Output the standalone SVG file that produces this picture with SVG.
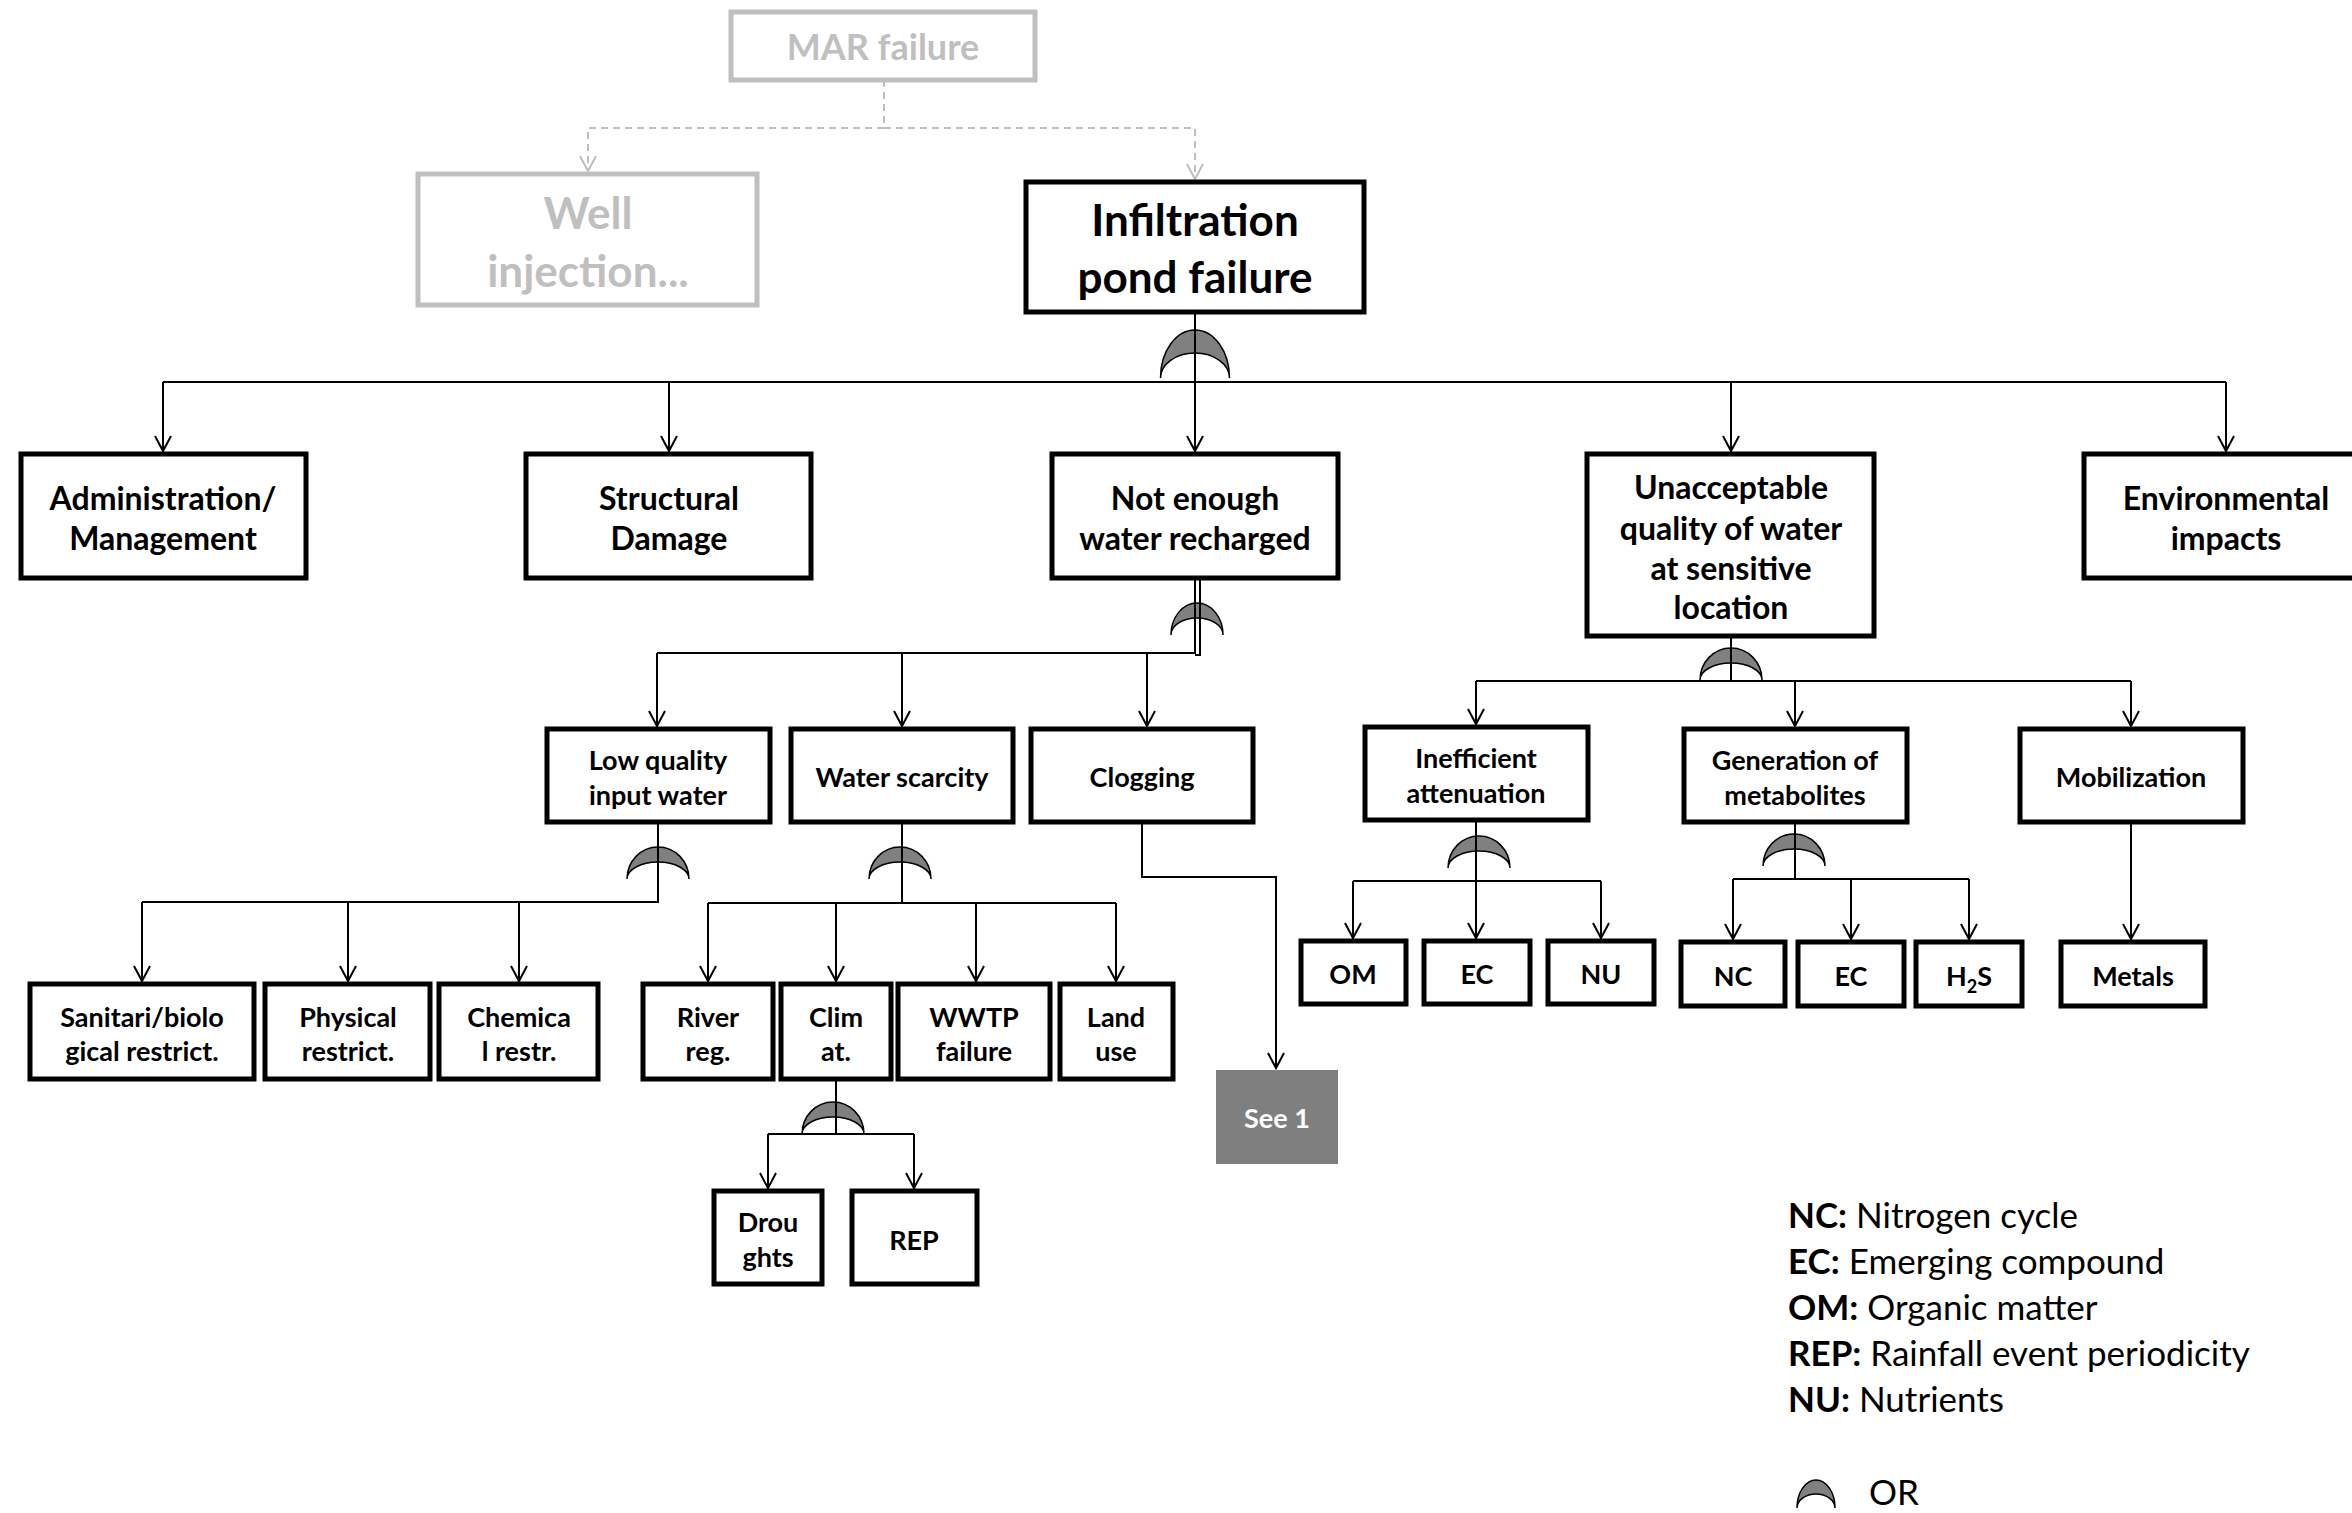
<svg xmlns="http://www.w3.org/2000/svg" width="2352" height="1513" viewBox="0 0 2352 1513">
<style>
.bx{fill:#fff;stroke:#000;stroke-width:5}
.gb{fill:#fff;stroke:#bfbfbf;stroke-width:5}
.t{font-family:Lato,"Open Sans","Liberation Sans",sans-serif;font-weight:bold;fill:#000;text-anchor:middle;dominant-baseline:central}
.gt{fill:#bfbfbf}
.s1{font-size:32px}
.s2{font-size:27px}
.s0{font-size:44px}
.c{fill:none;stroke:#000;stroke-width:2}
.d{fill:none;stroke:#bfbfbf;stroke-width:2;stroke-dasharray:7,5}
.g{fill:#808080;stroke:#000;stroke-width:1.5}
.lg{font-family:Lato,"Open Sans","Liberation Sans",sans-serif;font-size:35px;fill:#000}
</style>
<defs>
<marker id="a" markerUnits="userSpaceOnUse" orient="auto" refX="0" refY="0" markerWidth="20" markerHeight="20" overflow="visible">
<path d="M-15,-8 L0,0 L-15,8" fill="none" stroke="#000" stroke-width="2"/>
</marker>
<marker id="ag" markerUnits="userSpaceOnUse" orient="auto" refX="0" refY="0" markerWidth="20" markerHeight="20" overflow="visible">
<path d="M-15,-8 L0,0 L-15,8" fill="none" stroke="#bfbfbf" stroke-width="2"/>
</marker>
<path id="gs" d="M-31,0 A31,32 0 0 1 31,0 A31,17 0 0 0 -31,0 Z"/>
</defs>

<g id="gates">
<path class="g" d="M-34.5,0 A34.5,48 0 0 1 34.5,0 A34.5,25 0 0 0 -34.5,0 Z" transform="translate(1195,378)"/>
<path class="g" d="M-26,0 A26,32 0 0 1 26,0 A26,17 0 0 0 -26,0 Z" transform="translate(1197,635)"/>
<use href="#gs" class="g" x="1731" y="680"/>
<use href="#gs" class="g" x="658" y="879"/>
<use href="#gs" class="g" x="900" y="879"/>
<use href="#gs" class="g" x="833" y="1134"/>
<use href="#gs" class="g" x="1479" y="868"/>
<use href="#gs" class="g" x="1794" y="866"/>
</g>

<g id="connectors">
<path class="d" d="M884,80 V128 H588 V171" marker-end="url(#ag)"/>
<path class="d" d="M884,128 H1195 V179" marker-end="url(#ag)"/>
<path class="c" d="M1195,312 V382 M163,382 H2226"/>
<path class="c" d="M163,382 V451" marker-end="url(#a)"/>
<path class="c" d="M669,382 V451" marker-end="url(#a)"/>
<path class="c" d="M1195,382 V451" marker-end="url(#a)"/>
<path class="c" d="M1731,382 V451" marker-end="url(#a)"/>
<path class="c" d="M2226,382 V451" marker-end="url(#a)"/>
<path class="c" d="M1195,578 V653 H657 M1200,578 V655 H1195"/>
<path class="c" d="M657,653 V726" marker-end="url(#a)"/>
<path class="c" d="M902,653 V726" marker-end="url(#a)"/>
<path class="c" d="M1147,653 V726" marker-end="url(#a)"/>
<path class="c" d="M658,822 V902 H142"/>
<path class="c" d="M142,902 V981" marker-end="url(#a)"/>
<path class="c" d="M348,902 V981" marker-end="url(#a)"/>
<path class="c" d="M519,902 V981" marker-end="url(#a)"/>
<path class="c" d="M902,822 V903 M708,903 H1116"/>
<path class="c" d="M708,903 V981" marker-end="url(#a)"/>
<path class="c" d="M836,903 V981" marker-end="url(#a)"/>
<path class="c" d="M976,903 V981" marker-end="url(#a)"/>
<path class="c" d="M1116,903 V981" marker-end="url(#a)"/>
<path class="c" d="M1142,822 V877 H1276 V1068" marker-end="url(#a)"/>
<path class="c" d="M836,1079 V1134 M768,1134 H914"/>
<path class="c" d="M768,1134 V1188" marker-end="url(#a)"/>
<path class="c" d="M914,1134 V1188" marker-end="url(#a)"/>
<path class="c" d="M1731,636 V681 M1476,681 H2131"/>
<path class="c" d="M1476,681 V724" marker-end="url(#a)"/>
<path class="c" d="M1795,681 V726" marker-end="url(#a)"/>
<path class="c" d="M2131,681 V726" marker-end="url(#a)"/>
<path class="c" d="M1476,820 V881 M1353,881 H1601"/>
<path class="c" d="M1353,881 V938" marker-end="url(#a)"/>
<path class="c" d="M1476,881 V938" marker-end="url(#a)"/>
<path class="c" d="M1601,881 V938" marker-end="url(#a)"/>
<path class="c" d="M1795,822 V879 M1733,879 H1969"/>
<path class="c" d="M1733,879 V939" marker-end="url(#a)"/>
<path class="c" d="M1851,879 V939" marker-end="url(#a)"/>
<path class="c" d="M1969,879 V939" marker-end="url(#a)"/>
<path class="c" d="M2131,822 V939" marker-end="url(#a)"/>
</g>

<g id="n-mar"><rect class="gb" x="731" y="12" width="304" height="68"/><text class="t gt" x="883" y="46" style="font-size:36px">MAR failure</text></g>
<g id="n-well"><rect class="gb" x="418" y="174" width="339" height="131"/><text class="t gt s0" x="588" y="212">Well</text><text class="t gt s0" x="588" y="270">injection...</text></g>
<g id="n-infil"><rect class="bx" x="1026" y="182" width="338" height="130"/><text class="t s0" x="1195" y="219">Infiltration</text><text class="t s0" x="1195" y="276">pond failure</text></g>

<g id="n-admin"><rect class="bx" x="21" y="454" width="285" height="124"/><text class="t s1" x="163" y="497">Administration/</text><text class="t s1" x="163" y="537">Management</text></g>
<g id="n-struct"><rect class="bx" x="526" y="454" width="285" height="124"/><text class="t s1" x="669" y="497">Structural</text><text class="t s1" x="669" y="537">Damage</text></g>
<g id="n-notenough"><rect class="bx" x="1052" y="454" width="286" height="124"/><text class="t s1" x="1195" y="497">Not enough</text><text class="t s1" x="1195" y="537">water recharged</text></g>
<g id="n-unacc"><rect class="bx" x="1587" y="454" width="287" height="182"/><text class="t s1" x="1731" y="486">Unacceptable</text><text class="t s1" x="1731" y="527">quality of water</text><text class="t s1" x="1731" y="567">at sensitive</text><text class="t s1" x="1731" y="606">location</text></g>
<g id="n-env"><rect class="bx" x="2084" y="454" width="290" height="124"/><text class="t s1" x="2226" y="497">Environmental</text><text class="t s1" x="2226" y="537">impacts</text></g>

<g id="n-lowq"><rect class="bx" x="547" y="729" width="223" height="93"/><text class="t s2" x="658" y="759">Low quality</text><text class="t s2" x="658" y="794">input water</text></g>
<g id="n-scar"><rect class="bx" x="791" y="729" width="222" height="93"/><text class="t s2" x="902" y="776">Water scarcity</text></g>
<g id="n-clog"><rect class="bx" x="1031" y="729" width="222" height="93"/><text class="t s2" x="1142" y="776">Clogging</text></g>
<g id="n-ineff"><rect class="bx" x="1365" y="727" width="223" height="93"/><text class="t s2" x="1476" y="757">Inefficient</text><text class="t s2" x="1476" y="792">attenuation</text></g>
<g id="n-gen"><rect class="bx" x="1684" y="729" width="223" height="93"/><text class="t s2" x="1795" y="759">Generation of</text><text class="t s2" x="1795" y="794">metabolites</text></g>
<g id="n-mob"><rect class="bx" x="2020" y="729" width="223" height="93"/><text class="t s2" x="2131" y="776">Mobilization</text></g>

<g id="n-san"><rect class="bx" x="30" y="984" width="224" height="95"/><text class="t s2" x="142" y="1016">Sanitari/biolo</text><text class="t s2" x="142" y="1050">gical restrict.</text></g>
<g id="n-phys"><rect class="bx" x="265" y="984" width="165" height="95"/><text class="t s2" x="348" y="1016">Physical</text><text class="t s2" x="348" y="1050">restrict.</text></g>
<g id="n-chem"><rect class="bx" x="439" y="984" width="159" height="95"/><text class="t s2" x="519" y="1016">Chemica</text><text class="t s2" x="519" y="1050">l restr.</text></g>
<g id="n-river"><rect class="bx" x="643" y="984" width="130" height="95"/><text class="t s2" x="708" y="1016">River</text><text class="t s2" x="708" y="1050">reg.</text></g>
<g id="n-clim"><rect class="bx" x="781" y="984" width="110" height="95"/><text class="t s2" x="836" y="1016">Clim</text><text class="t s2" x="836" y="1050">at.</text></g>
<g id="n-wwtp"><rect class="bx" x="898" y="984" width="152" height="95"/><text class="t s2" x="974" y="1016">WWTP</text><text class="t s2" x="974" y="1050">failure</text></g>
<g id="n-land"><rect class="bx" x="1060" y="984" width="113" height="95"/><text class="t s2" x="1116" y="1016">Land</text><text class="t s2" x="1116" y="1050">use</text></g>
<g id="n-see1"><rect x="1216" y="1070" width="122" height="94" fill="#7f7f7f"/><text class="t s2" x="1277" y="1117" style="fill:#fff">See 1</text></g>
<g id="n-drou"><rect class="bx" x="714" y="1191" width="108" height="93"/><text class="t s2" x="768" y="1221">Drou</text><text class="t s2" x="768" y="1256">ghts</text></g>
<g id="n-rep"><rect class="bx" x="852" y="1191" width="125" height="93"/><text class="t s2" x="914" y="1239">REP</text></g>

<g id="n-om"><rect class="bx" x="1301" y="941" width="105" height="63"/><text class="t s2" x="1353" y="973">OM</text></g>
<g id="n-ec1"><rect class="bx" x="1424" y="941" width="106" height="63"/><text class="t s2" x="1477" y="973">EC</text></g>
<g id="n-nu"><rect class="bx" x="1548" y="941" width="106" height="63"/><text class="t s2" x="1601" y="973">NU</text></g>
<g id="n-nc"><rect class="bx" x="1681" y="942" width="104" height="64"/><text class="t s2" x="1733" y="975">NC</text></g>
<g id="n-ec2"><rect class="bx" x="1798" y="942" width="106" height="64"/><text class="t s2" x="1851" y="975">EC</text></g>
<g id="n-h2s"><rect class="bx" x="1916" y="942" width="106" height="64"/><text class="t s2" x="1969" y="975">H<tspan baseline-shift="sub" style="font-size:18px">2</tspan>S</text></g>
<g id="n-metals"><rect class="bx" x="2061" y="942" width="144" height="64"/><text class="t s2" x="2133" y="975">Metals</text></g>

<g id="legend">
<text class="lg" x="1788" y="1228"><tspan font-weight="bold">NC:</tspan> Nitrogen cycle</text>
<text class="lg" x="1788" y="1274"><tspan font-weight="bold">EC:</tspan> Emerging compound</text>
<text class="lg" x="1788" y="1320"><tspan font-weight="bold">OM:</tspan> Organic matter</text>
<text class="lg" x="1788" y="1366"><tspan font-weight="bold">REP:</tspan> Rainfall event periodicity</text>
<text class="lg" x="1788" y="1412"><tspan font-weight="bold">NU:</tspan> Nutrients</text>
<path class="g" d="M-19,0 A19,28 0 0 1 19,0 A19,14 0 0 0 -19,0 Z" transform="translate(1816,1508)"/>
<text class="lg" x="1869" y="1505">OR</text>
</g>
</svg>
